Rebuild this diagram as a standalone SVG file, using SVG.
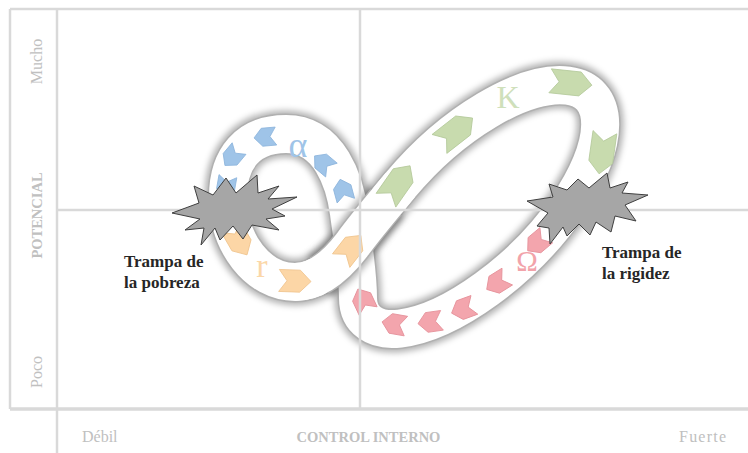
<svg xmlns="http://www.w3.org/2000/svg" xmlns:xlink="http://www.w3.org/1999/xlink" width="748" height="453" viewBox="0 0 748 453">
<defs>
<style>
.grid line{stroke:#d9d9d9;stroke-width:2.5;fill:none}
.ax{font-family:"Liberation Serif","Times New Roman",serif;fill:#c0c0c0;font-size:16px}
.axb{font-weight:bold;font-size:14.5px}
.lbl{font-family:"Liberation Serif","Times New Roman",serif;font-weight:bold;font-size:17px;fill:#262626}
.sh{fill:none;stroke:#000;stroke-opacity:.3;stroke-width:47;filter:url(#blur)}
.ed{fill:none;stroke:#b0b0b0;stroke-width:41}
.wh{fill:none;stroke:#fff;stroke-width:38}
.star{fill:#a6a6a6;stroke:#3f3f3f;stroke-width:1}
.g{fill:#c8dbae;stroke:#b4c99a;stroke-width:.8}
.o{fill:#fcd6a6;stroke:#efc38c;stroke-width:.8}
.b{fill:#9fc4e8;stroke:#8cb4dc;stroke-width:.8}
.r{fill:#f3a5ad;stroke:#e6939c;stroke-width:.8}
.gk{font-family:"Liberation Serif","Times New Roman",serif;text-anchor:middle}
</style>
<filter id="blur" x="-20%" y="-20%" width="140%" height="140%"><feGaussianBlur stdDeviation="3.3"/></filter>
<path id="chevG" d="M-21,-12 L9,-12 L21,0 L9,12 L-21,12 L-12,0 Z"/>
<path id="chevO" d="M-16,-11 L5,-11 L16,0 L5,11 L-16,11 L-8,0 Z"/>
<path id="chevS" d="M-11,-9 L3,-9 L11,0 L3,9 L-11,9 L-5,0 Z"/>
<path id="loop" d="M295,282 C320,282 339,262 352,245 C366,225.6 384.2,204.5 400.2,185.2 A160 70 -44 1 1 399.8,328.6 C375,331.6 358,320 358,298 C358,272 352,236 349,213 C345,183 330,134 286,134 C248,134 228,158 228,197 C228,243 258,282 295,282 Z"/>
<path id="strandA" d="M295,282 C320,282 339,262 352,245 C366,225.6 384.2,204.5 400.2,185.2"/>
</defs>

<g id="band">
<use xlink:href="#loop" class="sh"/>
<use xlink:href="#loop" class="ed"/>
<use xlink:href="#loop" class="wh"/>
<use xlink:href="#strandA" class="sh" stroke-dasharray="0 25 100 300"/>
<use xlink:href="#strandA" class="ed" stroke-dasharray="0 25 100 300"/>
<use xlink:href="#strandA" class="wh"/>
</g>

<g id="arrows">
<use xlink:href="#chevG" class="g" transform="translate(398 183) rotate(-55)"/>
<use xlink:href="#chevG" class="g" transform="translate(456 131) rotate(-38)"/>
<use xlink:href="#chevG" class="g" transform="translate(571 83) rotate(6)"/>
<use xlink:href="#chevG" class="g" transform="translate(602 153) rotate(98)"/>
<use xlink:href="#chevO" class="o" transform="translate(239 241) rotate(60)"/>
<use xlink:href="#chevO" class="o" transform="translate(295 281) rotate(2)"/>
<use xlink:href="#chevO" class="o" transform="translate(351 248) rotate(-52)"/>
<use xlink:href="#chevS" class="b" transform="translate(343 190) rotate(-105)"/>
<use xlink:href="#chevS" class="b" transform="translate(323 163) rotate(-140)"/>
<use xlink:href="#chevS" class="b" transform="translate(265 137) rotate(175)"/>
<use xlink:href="#chevS" class="b" transform="translate(232 157) rotate(130)"/>
<use xlink:href="#chevS" class="b" transform="translate(226 187) rotate(100)"/>
<use xlink:href="#chevS" class="r" transform="translate(537 243) rotate(140) scale(1.1)"/>
<use xlink:href="#chevS" class="r" transform="translate(497 283) rotate(148) scale(1.1)"/>
<use xlink:href="#chevS" class="r" transform="translate(463 309) rotate(160) scale(1.1)"/>
<use xlink:href="#chevS" class="r" transform="translate(430 322) rotate(172) scale(1.1)"/>
<use xlink:href="#chevS" class="r" transform="translate(394 324) rotate(190) scale(1.1)"/>
<use xlink:href="#chevS" class="r" transform="translate(363 300) rotate(245) scale(1.1)"/>
</g>

<g id="phase-labels">
<text class="gk" x="298" y="157" font-size="36" fill="#9fc4e8">α</text>
<text class="gk" x="508" y="108" font-size="32" fill="#cfe0bb">K</text>
<text class="gk" x="262" y="277" font-size="34" fill="#fbd7a8">r</text>
<text class="gk" x="527" y="271" font-size="29" fill="#f2a3aa">Ω</text>
</g>

<g id="grid" class="grid">
<line x1="10" y1="9" x2="748" y2="9"/>
<line x1="10" y1="9" x2="10" y2="409"/>
<line x1="57" y1="9" x2="57" y2="453"/>
<line x1="10" y1="409" x2="748" y2="409" style="stroke-width:3.5"/>
<line x1="360" y1="9" x2="360" y2="409"/>
<line x1="57" y1="210" x2="748" y2="210"/>
</g>

<g id="axis-labels">
<text class="ax" text-anchor="middle" transform="translate(42 61.5) rotate(-90)">Mucho</text>
<text class="ax axb" text-anchor="middle" transform="translate(42 215.5) rotate(-90)">POTENCIAL</text>
<text class="ax" text-anchor="middle" transform="translate(42 372) rotate(-90)">Poco</text>
<text class="ax" x="82" y="442">Débil</text>
<text class="ax axb" x="368.5" y="442" text-anchor="middle">CONTROL INTERNO</text>
<text class="ax" x="679" y="442" textLength="47" lengthAdjust="spacing">Fuerte</text>
</g>

<g id="trampa-pobreza">
<polygon class="star" points="172,213 199,203 194,186 213,195 226,178 236,193 257,175 258,193 279,186 268,199 297,197 272,209 285,216 266,219 279,230 252,225 243,239 233,226 220,240 215,228 201,245 204,228 185,230 200,219"/>
<text class="lbl" x="124" y="267">Trampa de</text>
<text class="lbl" x="124" y="288">la pobreza</text>
</g>

<g id="trampa-rigidez">
<polygon class="star" points="527,201 553,197 549,184 567,190 578,179 589,188 607,173 610,188 628,182 622,193 648,195 625,205 636,221 615,216 611,232 596,222 590,235 579,224 567,236 563,227 550,244 549,228 537,226 548,213"/>
<text class="lbl" x="602" y="258">Trampa de</text>
<text class="lbl" x="602" y="279">la rigidez</text>
</g>
</svg>
